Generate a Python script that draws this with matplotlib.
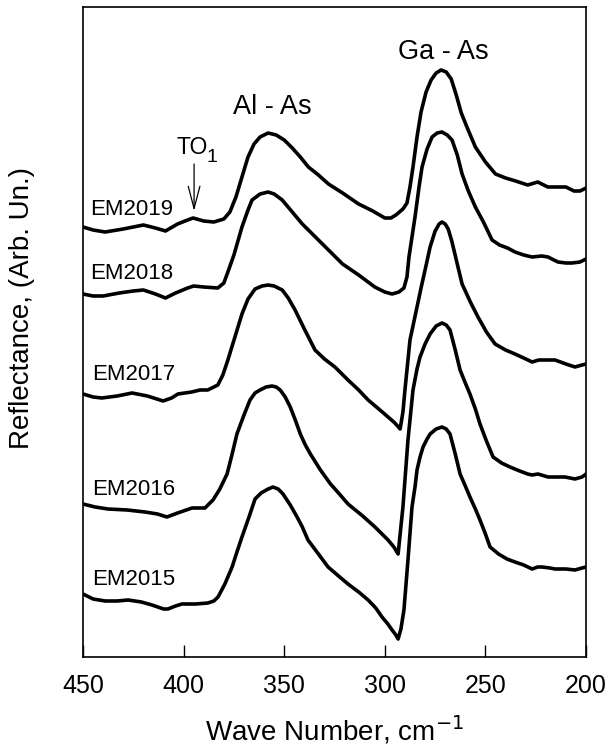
import numpy as np
import matplotlib.pyplot as plt

plt.rcParams['font.family'] = ['Liberation Sans', 'DejaVu Sans']

# readings: wave number (cm-1) and curve depth below the top of the frame
# (arb. units); heights are TOP - depth
TOP = 650

em2019_wn = [450, 445, 439, 430, 420, 414, 409, 403, 398, 395.3, 390, 385, 380, 377, 374, 371,
             368, 365, 362, 358, 354, 350, 346, 342, 338, 333, 328, 321, 313, 306, 300, 297,
             294.5, 291, 289, 287.5, 286, 284, 282, 279.5, 277, 274.5, 272, 269.5, 267, 264.5,
             262, 259, 255, 250, 245, 240, 235, 229, 224, 219, 215, 210, 206, 203, 200]
em2019_y = [220, 223, 225, 222, 218, 221, 224, 217, 213, 211, 214, 215, 212, 205, 190, 170,
            150, 137, 130, 126, 128, 133, 141, 150, 160, 168, 177, 186, 197, 204, 211, 211,
            208, 202, 196, 180, 160, 130, 105, 85, 73, 66, 63, 65, 72, 88,
            106, 121, 140, 155, 167, 171, 174, 178, 175, 180, 180, 180, 184, 184, 181]

em2018_wn = [450, 445, 440, 432, 425, 420, 414, 409, 404, 398, 395, 390, 383, 380, 378, 375,
             371, 368, 366, 362, 358, 355, 351, 346, 341, 336, 331, 326, 321, 313, 305, 300,
             296.4, 293, 290.5, 289, 288, 286.5, 285, 283, 281.5, 279, 276.5, 274, 271.6, 269,
             266.6, 264, 261.6, 258.5, 255, 251, 246.7, 243, 239, 235.3, 231, 226.8, 222,
             218.9, 216, 213.9, 210, 207, 203, 200]
em2018_y = [287, 289, 289, 286, 284, 283, 287, 291, 286, 281, 279, 280, 281, 276, 265, 248,
            220, 203, 193, 187, 185, 187, 193, 205, 217, 227, 237, 247, 257, 268, 280, 285,
            287, 285, 281, 270, 250, 230, 210, 180, 160, 142, 130, 126, 125, 128,
            133, 148, 167, 184, 200, 215, 233, 238, 241, 245, 248, 250, 249,
            250, 253, 255, 256, 256, 255, 252]

em2017_wn = [450, 445, 440.6, 433, 425.6, 418, 410.2, 406, 402.8, 396, 391.8, 388, 383, 380.5,
             378, 374.5, 371, 368, 364.5, 361, 358, 355, 351, 348, 344.6, 340, 334.7, 330,
             324.8, 318.3, 313, 308.3, 303, 298.4, 295, 292.4, 291, 290, 287.5, 284, 282, 280,
             277.5, 275, 273, 271.6, 270, 268.5, 266.6, 264, 261.6, 257.5, 253.7, 249.5, 245.2,
             240, 235.3, 231, 226.8, 223.5, 221.9, 218, 215.4, 210, 205.5, 202, 200]
em2017_y = [387, 390, 391, 389, 386, 389, 394, 391, 387, 385, 383, 383, 378, 368,
            353, 330, 307, 292, 282, 279, 278, 279, 283, 291, 303, 322, 343, 352,
            360, 373, 383, 393, 402, 410, 416, 422, 405, 383, 333, 300, 281, 263,
            240, 224, 217, 215, 217, 222, 235, 257, 277, 295, 310, 325, 337,
            343, 347, 351, 355, 353, 353, 353, 353, 357, 360, 358, 357]

em2016_wn = [450, 444, 437.6, 428, 419.2, 413, 408.3, 403, 395.8, 389.4, 385.4, 382, 378.4,
             376, 373.5, 370, 367, 364.5, 362, 359, 356, 354, 352, 349.5, 347, 344.5, 342,
             339.5, 337, 332, 327, 323, 318.3, 311, 304.9, 298.4, 295.5, 293.4, 291, 288.5,
             286, 284, 282.5, 280, 277.5, 274.5, 271.6, 269.5, 267.6, 265, 262.6, 260, 257.7,
             255, 252.7, 249.5, 246.2, 242, 237.8, 233, 229, 226.8, 223.9, 218.9, 214, 210.4,
             205.5, 202, 200]
em2016_y = [497, 500, 502, 503, 505, 507, 510, 506, 501, 501, 493, 482, 467,
            448, 427, 408, 393, 386, 383, 380, 379, 380, 383, 390, 400, 413, 427,
            438, 447, 463, 477, 486, 497, 509, 520, 533, 540, 547, 500, 433,
            383, 362, 350, 337, 327, 319, 316, 318, 323, 343, 363, 376, 387,
            402, 417, 434, 450, 456, 460, 464, 467, 468, 467, 470, 470, 470,
            472, 470, 467]

em2015_wn = [450, 445, 439, 433, 427.6, 421, 415.7, 410, 407.8, 404, 400.8, 394, 387.9, 385,
             382.9, 379.5, 375.9, 373.5, 371, 367.5, 364.5, 361.5, 358, 355.6, 353, 350.6, 347,
             343.6, 341, 338.2, 333, 328.2, 323, 318.3, 313, 308.3, 304.5, 301.4, 298.5, 296.4,
             294.5, 293.4, 292, 290.5, 288.5, 286.5, 285, 284, 282.5, 281, 279, 277.5, 274.5,
             271.6, 269.5, 267.6, 265, 262.6, 260, 257.7, 255, 252.7, 250, 247.7, 243.5, 239.3,
             235.3, 231, 226.8, 224, 221.9, 218, 215.4, 210, 205.5, 202, 200]
em2015_y = [587, 592, 594, 594, 593, 595, 598, 602, 602, 599, 597, 597, 596, 594,
            590, 577, 560, 545, 530, 510, 492, 486, 482, 480, 482, 487, 498,
            510, 520, 533, 547, 560, 569, 577, 585, 593, 601, 610, 617, 623,
            628, 632, 622, 603, 553, 500, 480, 463, 450, 440, 432, 427, 422,
            420, 422, 427, 447, 467, 479, 490, 502, 513, 527, 540, 547, 552,
            555, 558, 562, 560, 560, 561, 562, 562, 563, 561, 560]

samples = ['EM2019', 'EM2018', 'EM2017', 'EM2016', 'EM2015']
curves = [(em2019_wn, em2019_y), (em2018_wn, em2018_y), (em2017_wn, em2017_y),
          (em2016_wn, em2016_y), (em2015_wn, em2015_y)]
label_wn = [446.5, 446.5, 445.5, 445.5, 445.5]
label_y = [208, 272, 373, 488, 578]

fig = plt.figure(figsize=(6.09, 7.53), dpi=100)
ax = fig.add_axes([0.1363, 0.1275, 0.826, 0.8632])

for (wn, y) in curves:
    ax.plot(wn, TOP - np.array(y), color='black', lw=2.6,
            solid_joinstyle='round', solid_capstyle='round')

for name, lx, ly in zip(samples, label_wn, label_y):
    ax.text(lx, TOP - ly, name, fontsize=16, ha='left', va='baseline')

ax.text(270.8, TOP - 52, 'Ga - As', fontsize=19.5, ha='center', va='baseline')
ax.text(355.8, TOP - 107, 'Al - As', fontsize=19.5, ha='center', va='baseline')
# TO with a lowered "1"
ax.text(403.3, TOP - 147, 'TO', fontsize=16.5, ha='left', va='baseline')
ax.text(388.6, TOP - 155, '1', fontsize=14, ha='left', va='baseline')
ax.annotate('', xy=(394.8, TOP - 204), xytext=(394.8, TOP - 157),
            arrowprops=dict(arrowstyle='->,head_length=1.6,head_width=0.42',
                            color='black', lw=0.9, mutation_scale=10,
                            shrinkA=0, shrinkB=0))

ax.set_xlim(450, 200)
ax.set_ylim(0, TOP)
ax.set_xticks([450, 400, 350, 300, 250, 200])
ax.set_yticks([])
ax.tick_params(axis='x', direction='in', length=9, width=1, labelsize=18, pad=12)
for s in ax.spines.values():
    s.set_linewidth(1.2)

ax.set_xlabel('Wave Number, cm$^{-1}$', fontsize=20, va='center')
ax.set_ylabel('Reflectance, (Arb. Un.)', fontsize=20, va='center')
ax.xaxis.set_label_coords(0.5, -0.1123)
ax.yaxis.set_label_coords(-0.121, 0.537)

fig.savefig('out.png', dpi=100)
